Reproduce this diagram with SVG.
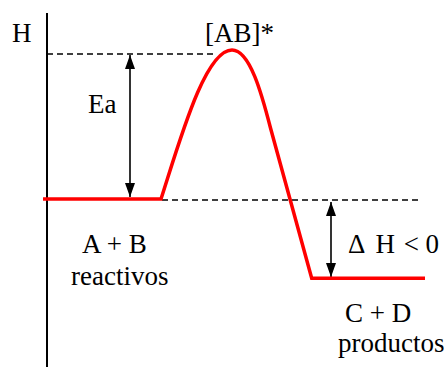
<svg xmlns="http://www.w3.org/2000/svg" width="444" height="367" viewBox="0 0 444 367">
<style>
text{font-family:'Liberation Serif','Times New Roman',serif;font-size:27px;fill:#000}
.axis{stroke:#000;stroke-width:2;fill:none}
.dash{stroke:#000;stroke-width:1.5;stroke-dasharray:6 4;fill:none}
.arrow{stroke:#000;stroke-width:1.6;fill:none;marker-start:url(#ah);marker-end:url(#ah)}
.red{stroke:#ff0000;stroke-width:3.5;fill:none;stroke-linejoin:miter}
</style>
<defs>
<marker id="ah" viewBox="0 0 14 10" refX="14" refY="5" markerWidth="14" markerHeight="10" markerUnits="userSpaceOnUse" orient="auto-start-reverse">
<path d="M0,0 L14,5 L0,10 z" fill="#000"/>
</marker>
</defs>
<g id="axis">
<line class="axis" x1="47" y1="13" x2="47" y2="367"/>
<text x="12" y="42">H</text>
</g>
<g id="connectors">
<line class="dash" x1="47" y1="54" x2="216" y2="54"/>
<line class="dash" x1="162" y1="200" x2="420" y2="200"/>
<line class="arrow" x1="130" y1="55" x2="130" y2="197"/>
<line class="arrow" x1="331" y1="202" x2="331" y2="277"/>
</g>
<g id="curve">
<path class="red" d="M43,199 H161 C180,140 205,50 232,50 C250,50 262,95 270.5,128 L311.7,278.3 H425"/>
</g>
<g id="ts">
<text x="205" y="42">[AB]*</text>
</g>
<g id="ea">
<text x="88" y="113">Ea</text>
</g>
<g id="reactivos">
<text x="82" y="253">A + B</text>
<text x="71" y="285">reactivos</text>
</g>
<g id="dh">
<text x="348" y="253">Δ<tspan dx="10">H</tspan><tspan dx="2"> &lt; 0</tspan></text>
</g>
<g id="productos">
<text x="345" y="322">C + D</text>
<text x="338" y="352">productos</text>
</g>
</svg>
